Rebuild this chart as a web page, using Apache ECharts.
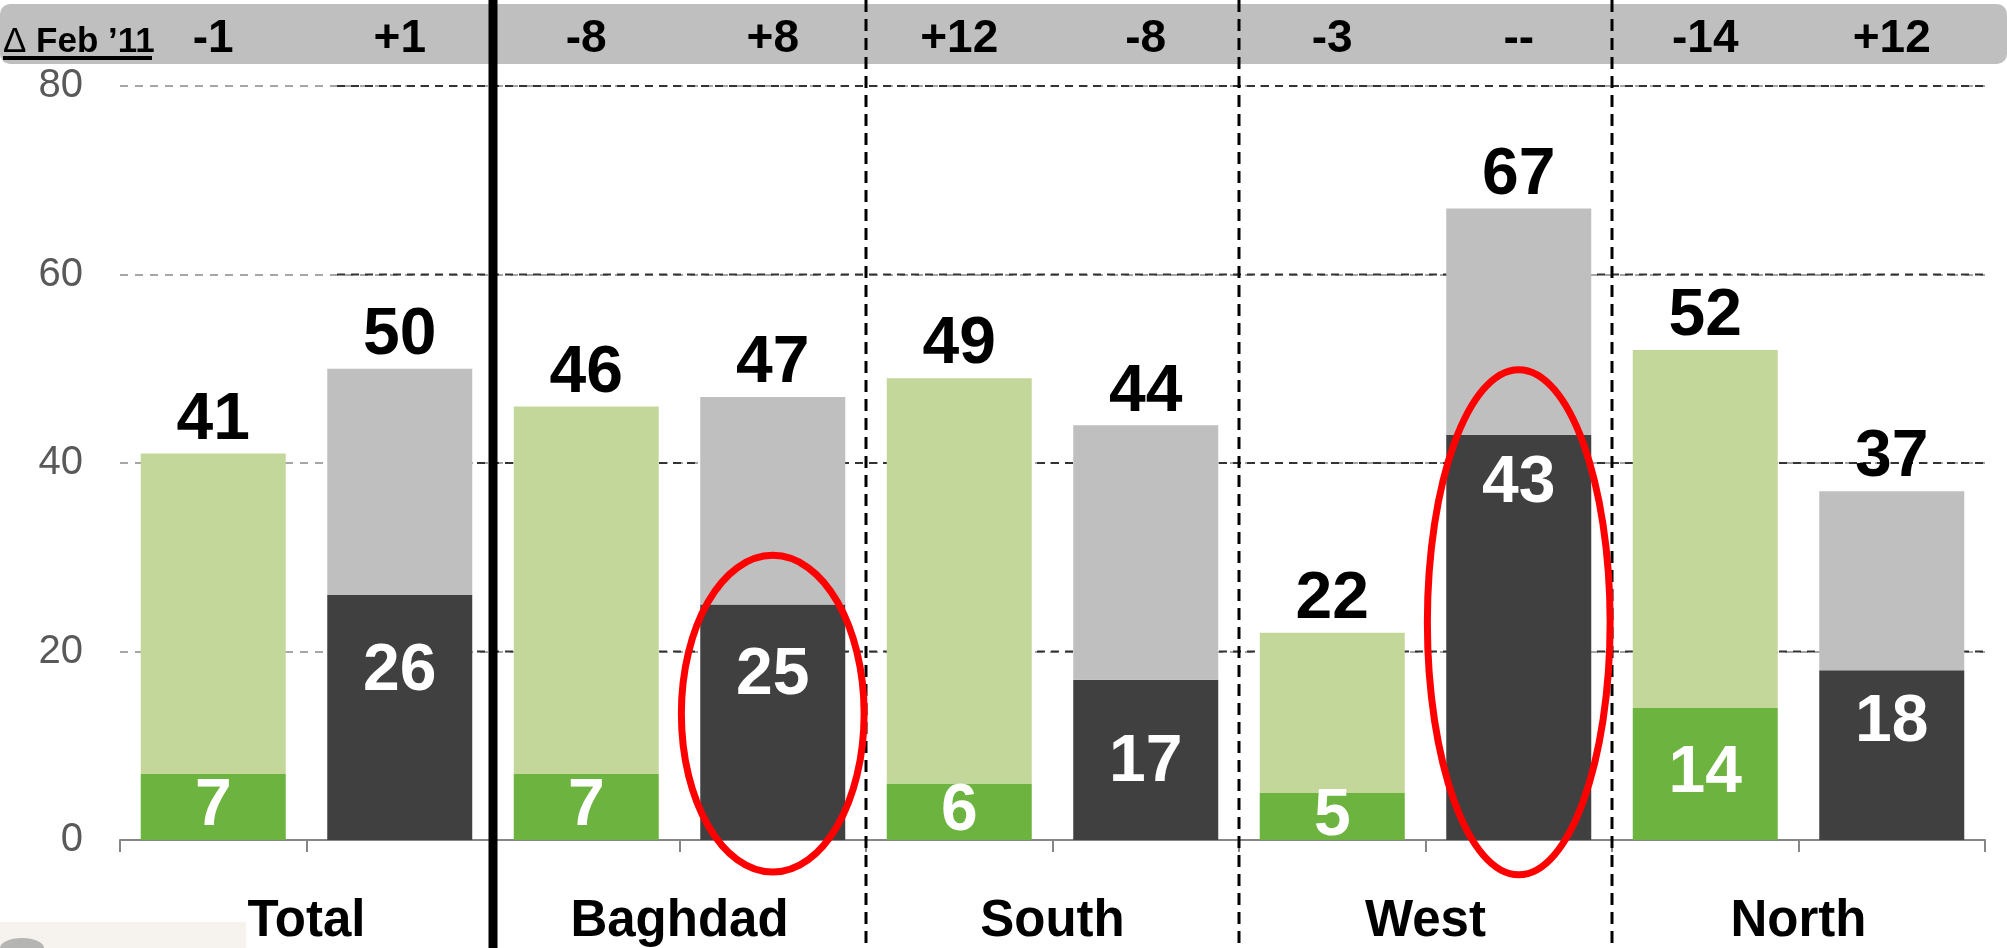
<!DOCTYPE html>
<html>

<head>
    <meta charset="utf-8" />
    <script src="https://cdn.jsdelivr.net/npm/echarts@6/dist/echarts.min.js"></script>
    <style>
        html, body { margin: 0; padding: 0; background: #fff; }
    </style>
</head>

<body>
    <div id="main" style="width: 2007px; height: 948px;"></div>
    <script type="text/javascript">
        // 数据
        var bars = ['Total A', 'Total B', 'Baghdad A', 'Baghdad B', 'South A', 'South B', 'West A', 'West B', 'North A', 'North B'];
        var regions = ['Total', 'Baghdad', 'South', 'West', 'North'];
        var totals = [41, 50, 46, 47, 49, 44, 22, 67, 52, 37];
        var inner = [7, 26, 7, 25, 6, 17, 5, 43, 14, 18];
        var deltas = ['-1', '+1', '-8', '+8', '+12', '-8', '-3', '--', '-14', '+12'];
        var yTicks = [0, 20, 40, 60, 80];
        // 红圈: 类目序号, 中心值, 半高(数值)
        var circled = [
            { cat: 3, mid: 13.4, half: 16.8 },
            { cat: 7, mid: 23.1, half: 26.8 }
        ];

        // 样式
        var FONT = "'Liberation Sans', Arial, sans-serif";
        var GREEN = '#6DB33F', LIGHT_GREEN = '#C4D79B', DARK = '#404040', LIGHT_GRAY = '#BFBFBF';
        var darkLabelPad = { 1: 44, 3: 38, 5: 50, 7: 16, 9: 19 }; // 深色柱内标签离顶部距离

        var myChart = echarts.init(document.getElementById('main'));

        var baseData = inner.map(function (v, i) {
            var green = i % 2 === 0;
            return {
                value: v,
                itemStyle: { color: green ? GREEN : DARK },
                label: green ? { position: 'inside' } : { position: 'insideTop', distance: darkLabelPad[i] }
            };
        });
        var restData = totals.map(function (t, i) {
            return {
                value: t - inner[i],
                itemStyle: { color: i % 2 === 0 ? LIGHT_GREEN : LIGHT_GRAY }
            };
        });

        var option = {
            animation: false,
            grid: { left: 120, right: 22, top: 86, bottom: 108, containLabel: false },
            xAxis: [
                {
                    type: 'category',
                    data: bars,
                    axisLine: { lineStyle: { color: '#868686', width: 2 } },
                    axisTick: { show: true, length: 12, lineStyle: { color: '#868686', width: 2 } },
                    axisLabel: { show: false }
                },
                {
                    type: 'category',
                    position: 'top',
                    data: deltas,
                    axisLine: { show: false },
                    axisTick: { show: false },
                    axisLabel: { margin: 24, color: '#000', fontFamily: FONT, fontWeight: 'bold', fontSize: 46 }
                },
                {
                    type: 'category',
                    position: 'bottom',
                    data: regions,
                    axisLine: { show: false },
                    axisTick: { show: false },
                    axisLabel: { margin: 56, color: '#000', fontFamily: FONT, fontWeight: 'bold', fontSize: 51 }
                }
            ],
            yAxis: {
                type: 'value',
                min: yTicks[0],
                max: yTicks[yTicks.length - 1],
                interval: 20,
                axisLine: { show: false },
                axisTick: { show: false },
                axisLabel: { margin: 37, color: '#595959', fontFamily: FONT, fontSize: 40 },
                splitLine: { lineStyle: { color: '#A6A6A6', width: 2, type: [8, 7] } }
            },
            series: [
                {
                    name: 'inner',
                    type: 'bar',
                    stack: 'a',
                    barWidth: 145,
                    data: baseData,
                    label: {
                        show: true,
                        color: '#fff',
                        fontFamily: FONT,
                        fontWeight: 'bold',
                        fontSize: 66
                    }
                },
                {
                    name: 'rest',
                    type: 'bar',
                    stack: 'a',
                    barWidth: 145,
                    data: restData,
                    label: {
                        show: true,
                        position: 'top',
                        distance: 0,
                        color: '#000',
                        fontFamily: FONT,
                        fontWeight: 'bold',
                        fontSize: 66,
                        formatter: function (p) { return totals[p.dataIndex]; }
                    }
                }
            ]
        };

        myChart.setOption(option);

        // 叠加: 灰色表头, 分隔线, 红圈
        function px(cat, val) {
            return myChart.convertToPixel({ xAxisIndex: 0, yAxisIndex: 0 }, [cat, val]);
        }
        var step = px(1, 0)[0] - px(0, 0)[0];
        var H = myChart.getHeight(), W = myChart.getWidth();
        var g = [];

        g.push({ type: 'rect', z: -1, shape: { x: 0, y: 4, width: W, height: 60, r: 10 }, style: { fill: '#BFBFBF' } });
        g.push({
            type: 'text', z: 5, x: 3, y: 42,
            style: {
                text: '{d|\u0394\u00a0}{b|Feb \u201911}',
                textVerticalAlign: 'middle',
                rich: {
                    d: { fill: '#000', font: '35px ' + FONT },
                    b: { fill: '#000', font: 'bold 35px ' + FONT }
                }
            }
        });
        g.push({ type: 'line', z: 5, shape: { x1: 3, y1: 58, x2: 152, y2: 58 }, style: { stroke: '#000', lineWidth: 4 } });

        // 深色网格线(Total 区右侧)
        yTicks.slice(1).forEach(function (v) {
            var y = px(0, v)[1];
            g.push({ type: 'line', z: 1, shape: { x1: 337, y1: y, x2: px(9, 0)[0] + step / 2, y2: y }, style: { stroke: '#333', lineWidth: 2, lineDash: [8, 6] } });
        });

        // 分隔线
        [2, 4, 6, 8].forEach(function (c) {
            var x = px(c, 0)[0] - step / 2;
            if (c === 2) {
                g.push({ type: 'line', z: 20, shape: { x1: x, y1: 0, x2: x, y2: H }, style: { stroke: '#000', lineWidth: 9 } });
            } else {
                g.push({ type: 'line', z: 20, shape: { x1: x, y1: 0, x2: x, y2: H }, style: { stroke: '#000', lineWidth: 3, lineDash: [12, 7] } });
            }
        });

        circled.forEach(function (c) {
            var p = px(c.cat, c.mid);
            var ry = px(c.cat, 0)[1] - px(c.cat, c.half)[1];
            g.push({ type: 'ellipse', z: 30, shape: { cx: p[0], cy: p[1], rx: step * 0.49, ry: ry }, style: { fill: 'none', stroke: '#FF0000', lineWidth: 7 } });
        });

        // 左下角图片残片
        g.push({ type: 'rect', z: 0, shape: { x: 0, y: 922, width: 246, height: 26 }, style: { fill: '#F6F3EE' } });
        g.push({ type: 'ellipse', z: 1, shape: { cx: 22, cy: 948, rx: 22, ry: 10 }, style: { fill: '#9A9A9A', opacity: 0.7 } });

        myChart.setOption({ graphic: g });
    </script>
</body>

</html>
